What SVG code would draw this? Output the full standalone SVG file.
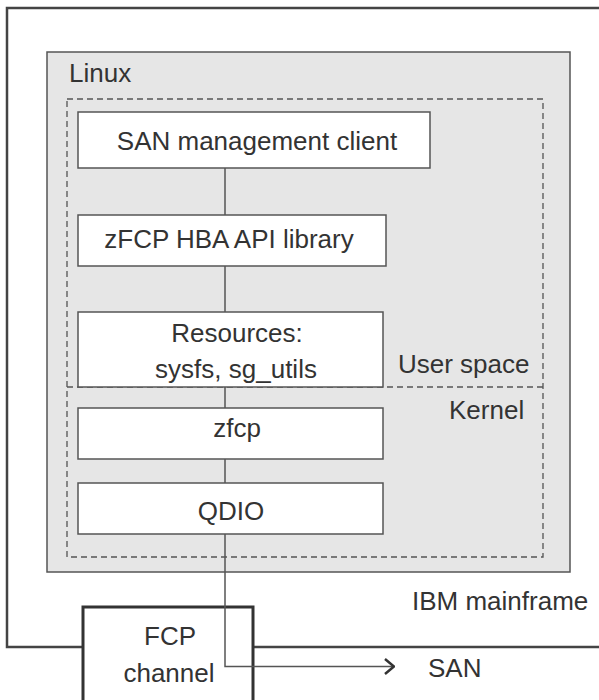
<svg xmlns="http://www.w3.org/2000/svg" width="599" height="700" viewBox="0 0 599 700">
<defs>
<style>
text{font-family:"Liberation Sans",Arial,sans-serif;font-size:26px;fill:#333;}
.box{fill:#fff;stroke:#555;stroke-width:1.5;}
.mid{text-anchor:middle;}
.conn{fill:none;stroke:#555;stroke-width:1.5;}
.dash{fill:none;stroke:#555;stroke-width:1.3;stroke-dasharray:6,4;}
</style>
<marker id="arr" viewBox="0 0 12 18" refX="11" refY="9" markerWidth="12" markerHeight="18" markerUnits="userSpaceOnUse" orient="auto">
<path d="M2,1.5 L11,9 L2,16.5" fill="none" stroke="#333" stroke-width="2.5"/>
</marker>
</defs>
<rect width="599" height="700" fill="#fff"/>
<g id="mainframe">
<path d="M600,8 H7 V647 H600" fill="none" stroke="#444" stroke-width="2.5"/>
<text x="412" y="610">IBM mainframe</text>
</g>
<g id="linux">
<rect x="47" y="52" width="523" height="520" fill="#e6e6e6" stroke="#555" stroke-width="1.5"/>
<text x="69" y="82">Linux</text>
</g>
<g id="spaces">
<rect x="67" y="99" width="476" height="458" class="dash"/>
<line x1="67" y1="387" x2="543" y2="387" class="dash"/>
<text x="398" y="373">User space</text>
<text x="449" y="419">Kernel</text>
</g>
<g id="fcp-channel">
<rect x="83" y="607" width="170" height="100" fill="#fff" stroke="#333" stroke-width="3"/>
<text x="170" y="645" class="mid">FCP</text>
<text x="169" y="682" class="mid">channel</text>
</g>
<g id="connectors">
<line x1="225" y1="168" x2="225" y2="215" class="conn"/>
<line x1="225" y1="266" x2="225" y2="312" class="conn"/>
<line x1="225" y1="387" x2="225" y2="408" class="conn"/>
<line x1="225" y1="459" x2="225" y2="483" class="conn"/>
<path d="M225,534 V666.5 H394" class="conn" marker-end="url(#arr)"/>
</g>
<g id="san-client">
<rect x="78" y="112" width="352" height="56" class="box"/>
<text x="257" y="150" class="mid">SAN management client</text>
</g>
<g id="hba-api">
<rect x="78" y="215" width="308" height="51" class="box"/>
<text x="229" y="248" class="mid">zFCP HBA API library</text>
</g>
<g id="resources">
<rect x="78" y="312" width="305" height="75" class="box"/>
<text x="237" y="342" class="mid">Resources:</text>
<text x="236" y="378" class="mid">sysfs, sg_utils</text>
</g>
<g id="zfcp">
<rect x="78" y="408" width="305" height="51" class="box"/>
<text x="237" y="437" class="mid">zfcp</text>
</g>
<g id="qdio">
<rect x="78" y="483" width="305" height="51" class="box"/>
<text x="231" y="520" class="mid">QDIO</text>
</g>
<g id="san">
<text x="428" y="677">SAN</text>
</g>
</svg>
